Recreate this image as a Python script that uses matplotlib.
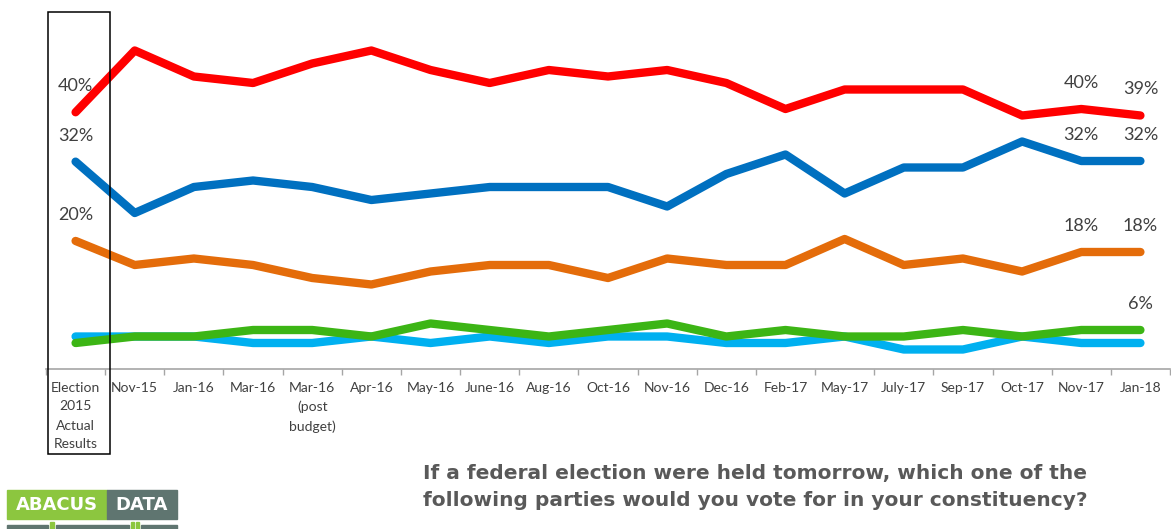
import numpy as np
import matplotlib
matplotlib.use("Agg")
import matplotlib.pyplot as plt
from matplotlib.patches import Rectangle
import matplotlib.transforms as mtransforms

categories = ["Election\n2015\nActual\nResults", "Nov-15", "Jan-16", "Mar-16",
              "Mar-16\n(post\nbudget)", "Apr-16", "May-16", "June-16", "Aug-16",
              "Oct-16", "Nov-16", "Dec-16", "Feb-17", "May-17", "July-17",
              "Sep-17", "Oct-17", "Nov-17", "Jan-18"]

liberal      = [39.5, 49, 45, 44, 47, 49, 46, 44, 46, 45, 46, 44, 40, 43, 43, 43, 39, 40, 39]
conservative = [31.9, 24, 28, 29, 28, 26, 27, 28, 28, 28, 25, 30, 33, 27, 31, 31, 35, 32, 32]
ndp          = [19.7, 16, 17, 16, 14, 13, 15, 16, 16, 14, 17, 16, 16, 20, 16, 17, 15, 18, 18]
bloc         = [5, 5, 5, 4, 4, 5, 4, 5, 4, 5, 5, 4, 4, 5, 3, 3, 5, 4, 4]
green        = [4, 5, 5, 6, 6, 5, 7, 6, 5, 6, 7, 5, 6, 5, 5, 6, 5, 6, 6]

series = [
    (liberal, "#ff0000"),
    (conservative, "#0070c0"),
    (ndp, "#e46c0a"),
    (bloc, "#00b0f0"),
    (green, "#3cb515"),
]

# (category index, series) pairs that carry a value label
label_points = [(0, liberal), (0, conservative), (0, ndp),
                (17, liberal), (17, conservative), (17, ndp),
                (18, liberal), (18, conservative), (18, ndp), (18, green)]

title_lines = ["If a federal election were held tomorrow, which one of the",
               "following parties would you vote for in your constituency?"]

W, H = 1171, 529
fig = plt.figure(figsize=(W / 100, H / 100), dpi=100)
ax_left, ax_right, ax_top, ax_bot = 46, 1170, 11.5, 369
ax = fig.add_axes([ax_left / W, 1 - ax_bot / H, (ax_right - ax_left) / W, (ax_bot - ax_top) / H])

x = np.arange(len(categories))
for vals, col in series:
    ax.plot(x, vals, color=col, lw=6.0, solid_capstyle="round", solid_joinstyle="round", zorder=3)

for i, vals in label_points:
    v = vals[i]
    ax.annotate(f"{int(v + 0.5)}%", (i, v), xytext=(0, 26), textcoords="offset pixels",
                ha="center", va="center", fontsize=13, color="#404040", family="Lato", zorder=4)

ax.set_xlim(-0.5, len(categories) - 0.5)
ax.set_ylim(0, 55)
for s in ["top", "left", "right"]:
    ax.spines[s].set_visible(False)
ax.spines["bottom"].set_color("#a6a6a6")
ax.spines["bottom"].set_linewidth(1.2)
ax.set_yticks([])
ax.set_xticks(x)
ax.set_xticklabels(categories, fontsize=10, color="#404040", family="Lato", linespacing=1.7)
ax.tick_params(axis="x", which="major", length=0, pad=9)
ax.set_xticks(np.arange(-0.5, len(categories), 1), minor=True)
ax.tick_params(axis="x", which="minor", length=4, width=1, color="#a6a6a6")

# box around the election results column
trans = mtransforms.blended_transform_factory(ax.transData, ax.transAxes)
ax.add_patch(Rectangle((-0.47, -0.238), 1.06, 1.238, transform=trans, fill=False,
                       edgecolor="black", lw=1.1, clip_on=False, zorder=5))

# title (two lines placed by baseline)
for line, base in zip(title_lines, [479, 506]):
    fig.text(423 / W, 1 - base / H, line, ha="left", va="baseline", fontsize=14.5,
             fontweight="bold", color="#595959", family="DejaVu Sans")

# logo
def px_rect(x0, y0, x1, y1, color):
    fig.patches.append(Rectangle((x0 / W, 1 - y1 / H), (x1 - x0) / W, (y1 - y0) / H,
                                 transform=fig.transFigure, color=color, zorder=1))

px_rect(7, 490, 107, 519, "#8cc63f")
px_rect(107, 490, 177, 519, "#5f7570")
fig.text(57 / W, 1 - 505 / H, "ABACUS", ha="center", va="center", fontsize=13,
         fontweight="bold", color="white", family="DejaVu Sans")
fig.text(142 / W, 1 - 505 / H, "DATA", ha="center", va="center", fontsize=13,
         fontweight="bold", color="white", family="DejaVu Sans")
for a, b in [(7, 48), (56, 129), (141, 177)]:
    px_rect(a, 525, b, 529, "#5f7570")
for a, b in [(50, 54), (131, 134), (136, 139)]:
    px_rect(a, 522, b, 529, "#8cc63f")

fig.savefig("out.png", dpi=100)
